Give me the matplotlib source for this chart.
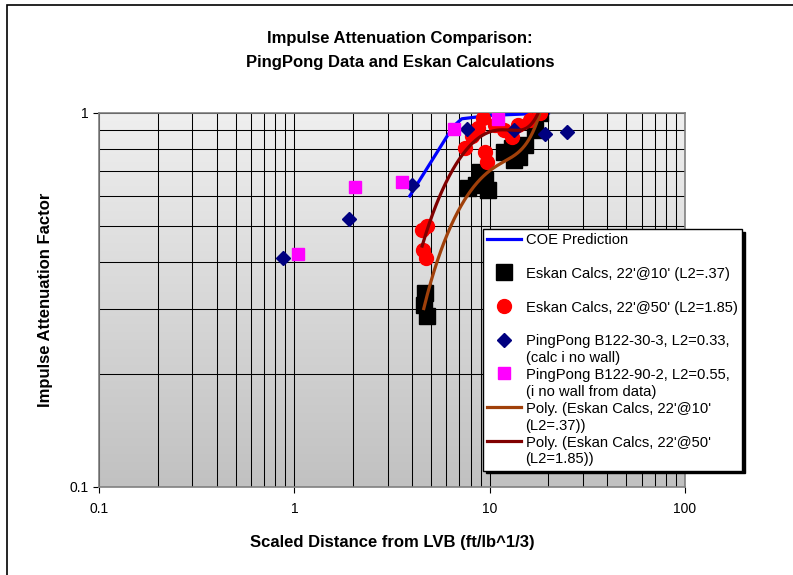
import numpy as np
import matplotlib
matplotlib.use("Agg")
import matplotlib.pyplot as plt
import matplotlib.ticker as ticker
from matplotlib.patches import Rectangle

plt.rcParams['font.family'] = ['Liberation Sans', 'DejaVu Sans']

# COE prediction curve
coe_x = [3.9, 6.5, 7.2, 10.0, 20.0]
coe_y = [0.60, 0.92, 0.965, 0.985, 1.0]

# Eskan calcs, 22'@10' (L2=.37)
esk10_x = [4.65, 4.60, 4.76, 7.72, 8.48, 8.89, 9.77, 9.43, 11.9, 12.96, 14.2, 13.4, 15.1, 17.0, 18.0]
esk10_y = [0.330, 0.307, 0.287, 0.630, 0.642, 0.695, 0.622, 0.662, 0.787, 0.806, 0.763, 0.749, 0.821, 0.901, 1.0]

# Eskan calcs, 22'@50' (L2=1.85)
esk50_x = [4.51, 4.76, 4.56, 4.70, 7.45, 8.09, 8.68, 9.2, 9.43, 9.65, 10.6, 11.9, 12.96, 13.9, 16.0, 18.0]
esk50_y = [0.487, 0.499, 0.430, 0.410, 0.806, 0.868, 0.912, 0.970, 0.787, 0.740, 0.929, 0.901, 0.863, 0.929, 0.958, 1.0]

# PingPong B122-30-3
pp30_x = [0.873, 1.90, 3.99, 7.7, 13.4, 19.3, 24.8]
pp30_y = [0.41, 0.52, 0.64, 0.906, 0.90, 0.88, 0.89]

# PingPong B122-90-2
pp90_x = [1.04, 2.04, 3.55, 6.55, 11.0]
pp90_y = [0.42, 0.634, 0.654, 0.906, 0.964]

labels = [
    "COE Prediction",
    "Eskan Calcs, 22'@10' (L2=.37)",
    "Eskan Calcs, 22'@50' (L2=1.85)",
    "PingPong B122-30-3, L2=0.33,\n(calc i no wall)",
    "PingPong B122-90-2, L2=0.55,\n(i no wall from data)",
    "Poly. (Eskan Calcs, 22'@10'\n(L2=.37))",
    "Poly. (Eskan Calcs, 22'@50'\n(L2=1.85))",
]

W, H = 793, 575
fig = plt.figure(figsize=(W / 100, H / 100), dpi=100)
fig.patch.set_facecolor('white')

# outer chart border
fig.patches.append(Rectangle((7 / W, -0.1), 1.2, 1.1 - 5 / H, transform=fig.transFigure,
                             fill=False, edgecolor='black', linewidth=1.2))

ax = fig.add_axes([99 / W, (H - 487) / H, 586 / W, 374 / H])

# gradient plot-area fill
grad = np.linspace(0, 1, 256).reshape(-1, 1)
top, bot = np.array([0.937, 0.937, 0.937]), np.array([0.757, 0.757, 0.757])
img = top + (bot - top) * grad[..., None]
ax.imshow(img, extent=[0, 1, 0, 1], transform=ax.transAxes, aspect='auto',
          origin='upper', zorder=0, interpolation='bilinear')

ax.set_xscale('log')
ax.set_yscale('log')
ax.set_xlim(0.1, 100)
ax.set_ylim(0.1, 1)

ax.plot(coe_x, coe_y, color='#0000FF', lw=2.3, zorder=3, label=labels[0])
ax.plot(esk10_x, esk10_y, ls='none', marker='s', ms=11, color='black', mec='black', zorder=4, label=labels[1])
ax.plot(esk50_x, esk50_y, ls='none', marker='o', ms=10, color='#FF0000', mec='#FF0000', zorder=5, label=labels[2])
ax.plot(pp30_x, pp30_y, ls='none', marker='D', ms=6.8, color='#000080', mec='#000080', zorder=6, label=labels[3])
ax.plot(pp90_x, pp90_y, ls='none', marker='s', ms=9, color='#FF00FF', mec='#FF00FF', zorder=7, label=labels[4])

# polynomial trendlines (fitted on linear values)
for xs, ys, col, lab in [(esk10_x, esk10_y, '#A0400A', labels[5]),
                         (esk50_x, esk50_y, '#800000', labels[6])]:
    coef = np.polyfit(xs, ys, 3)
    xx = np.linspace(min(xs), max(xs), 200)
    ax.plot(xx, np.polyval(coef, xx), color=col, lw=2.3, zorder=8, label=lab)

ax.xaxis.set_major_formatter(ticker.FormatStrFormatter('%g'))
ax.yaxis.set_major_formatter(ticker.FormatStrFormatter('%g'))
ax.xaxis.set_minor_formatter(ticker.NullFormatter())
ax.yaxis.set_minor_formatter(ticker.NullFormatter())
ax.tick_params(which='major', direction='out', length=4.5, width=0.8, color='black',
               labelsize=10, pad=6)
ax.tick_params(axis='y', which='major', pad=3)
ax.tick_params(which='minor', length=0)
ax.grid(which='both', color='black', lw=0.75, zorder=1)
ax.set_axisbelow(True)
for sp in ax.spines.values():
    sp.set_color('#808080')
    sp.set_linewidth(1.2)

ax.set_xlabel("Scaled Distance from LVB (ft/lb^1/3)", fontsize=12, fontweight='bold', labelpad=14)
ax.set_ylabel("Impulse Attenuation Factor", fontsize=12, fontweight='bold', labelpad=12)

fig.text(400 / W, 1 - 38 / H, "Impulse Attenuation Comparison:", ha='center', va='center',
         fontsize=12, fontweight='bold')
fig.text(400 / W, 1 - 63 / H, "PingPong Data and Eskan Calculations", ha='center', va='center',
         fontsize=12, fontweight='bold')

handles, labs = ax.get_legend_handles_labels()
labs = [l if '\n' in l else l + '\n ' for l in labs]
leg = ax.legend(handles, labs, loc='upper left', bbox_to_anchor=(0.655, 0.690),
                borderaxespad=0, fontsize=10.6, numpoints=1, handlelength=2.3,
                handletextpad=0.3, labelspacing=0.2, borderpad=0.3,
                fancybox=False, framealpha=1, edgecolor='black',
                shadow={'color': 'black', 'alpha': 1})
leg.get_frame().set_linewidth(1.0)
leg.set_zorder(20)
for t in leg.get_texts():
    t.set_linespacing(1.25)
for col in leg._legend_handle_box.get_children():
    for item in col.get_children():
        item.align = 'top'

fig.savefig('out.png', dpi=100)
